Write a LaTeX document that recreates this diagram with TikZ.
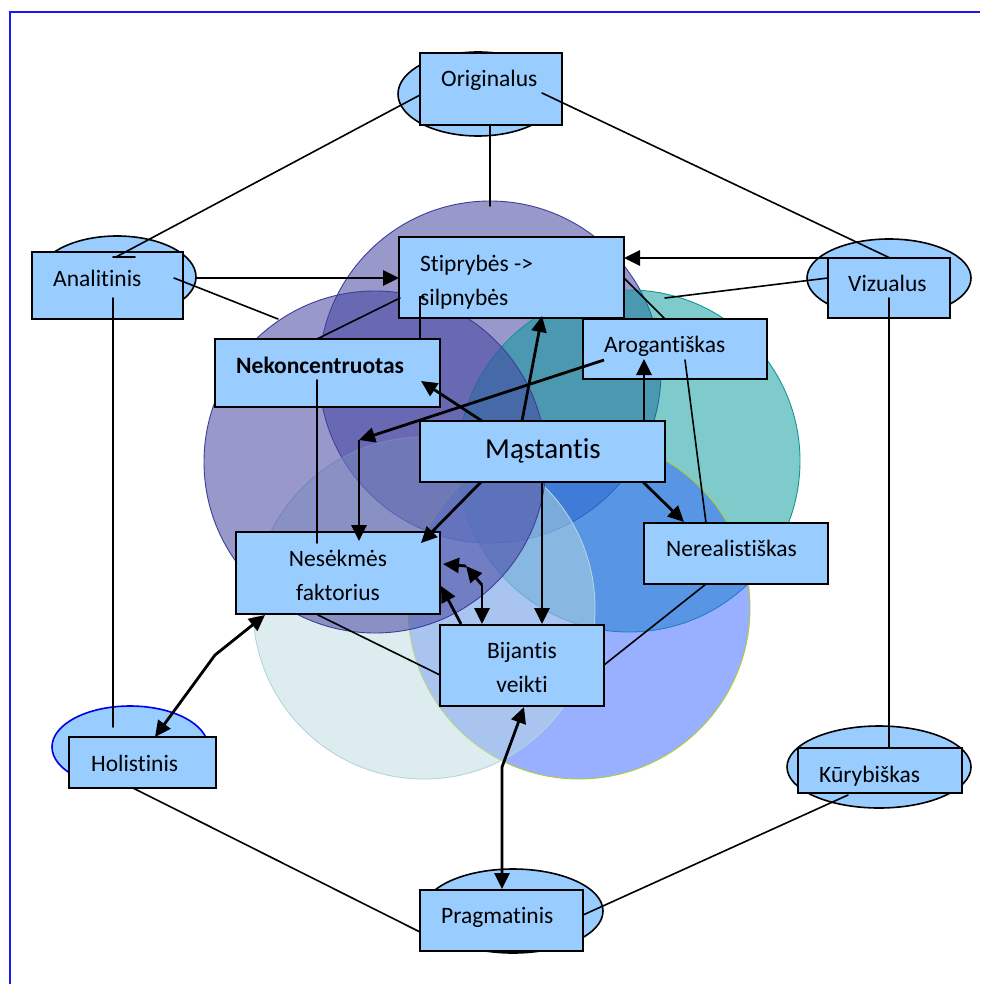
\documentclass[tikz,border=0pt]{standalone}
\usepackage{fontspec}
\setmainfont{Carlito}[Ligatures=NoCommon]
\usetikzlibrary{arrows.meta,calc}
\definecolor{boxfill}{RGB}{153,204,255}
\definecolor{purplec}{RGB}{66,66,160}
\definecolor{purpleb}{RGB}{62,62,150}
\definecolor{tealc}{RGB}{0,153,153}
\definecolor{tealb}{RGB}{20,150,150}
\definecolor{periw}{RGB}{53,97,255}
\definecolor{periwb}{RGB}{175,205,50}
\definecolor{palec}{RGB}{186,220,224}
\definecolor{paleb}{RGB}{175,215,222}
\definecolor{frameblue}{RGB}{25,25,240}
\definecolor{holblue}{RGB}{0,0,235}

\begin{document}
\begin{tikzpicture}[x=1pt,y=-1pt,
  box/.style={draw=black, line width=2pt, fill=boxfill, rectangle, inner sep=0pt},
  oval/.style={draw=black, line width=1.6pt, fill=boxfill},
  lbl/.style={inner sep=0pt, font=\fontsize{23.5}{28}\selectfont},
  link/.style={line width=1.6pt, line cap=round},
  arr/.style={line width=2.8pt, -{Triangle[length=16pt,width=15pt]}},
  biarr/.style={line width=2.8pt, line join=round,
    {Triangle[length=16pt,width=15pt]}-{Triangle[length=16pt,width=15pt]}},
  ring/.style={line width=0.9pt, fill opacity=0.5},
]
\useasboundingbox (0,0) rectangle (980,984);
\fill[white] (0,0) rectangle (980,984);

% page frame
\draw[frameblue, line width=2.2pt] (10,984) -- (10,12) -- (980,12);

% overlapping circles
\filldraw[ring, fill=purplec, fill opacity=0.54, draw=purpleb] (490,372) circle[radius=171pt];
\filldraw[ring, fill=tealc, draw=tealb] (629,461) circle[radius=171pt];
\filldraw[ring, fill=periw, draw=periwb] (579,608) circle[radius=171pt];
\filldraw[ring, fill=palec, fill opacity=0.49, draw=paleb] (424,608) circle[radius=171pt];
\filldraw[ring, fill=purplec, fill opacity=0.54, draw=purpleb] (375,462) circle[radius=171pt];

% ovals behind the outer boxes
\filldraw[oval] (478,94) ellipse[x radius=80pt, y radius=42pt];
\filldraw[oval] (117,277) ellipse[x radius=79pt, y radius=41pt];
\filldraw[oval] (889,278) ellipse[x radius=82pt, y radius=39pt];
\filldraw[oval, draw=holblue] (130,747) ellipse[x radius=78pt, y radius=41pt];
\filldraw[oval] (879,767) ellipse[x radius=92pt, y radius=41pt];
\filldraw[oval] (513,911) ellipse[x radius=90pt, y radius=42pt];

% boxes
\node[box, minimum width=142pt, minimum height=72pt] (ori) at (491,89) {};
\node[box, minimum width=151pt, minimum height=67pt] (ana) at (107.5,285.5) {};
\node[box, minimum width=122pt, minimum height=60pt] (viz) at (889,288) {};
\node[box, minimum width=225pt, minimum height=81pt] (sti) at (511.5,277.5) {};
\node[box, minimum width=184pt, minimum height=60pt] (aro) at (675,349) {};
\node[box, minimum width=225pt, minimum height=68pt] (nek) at (327.5,373) {};
\node[box, minimum width=245pt, minimum height=61pt] (mas) at (542.5,451.5) {};
\node[box, minimum width=204pt, minimum height=82pt] (nes) at (338,573) {};
\node[box, minimum width=164pt, minimum height=81pt] (bij) at (522,665.5) {};
\node[box, minimum width=184pt, minimum height=61pt] (ner) at (736,553.5) {};
\node[box, minimum width=147pt, minimum height=51pt] (hol) at (142.5,762.5) {};
\node[box, minimum width=164pt, minimum height=45pt] (kur) at (880,770.5) {};
\node[box, minimum width=163pt, minimum height=61pt] (pra) at (501.5,920.5) {};

% connector ports
\coordinate (ori-l) at (420,95);   \coordinate (ori-r) at (542,93);
\coordinate (ori-b) at (490,125);  \coordinate (top-c) at (490,206);
\coordinate (ana-t) at (116,257);  \coordinate (ana-r) at (174,278);
\coordinate (ana-b) at (113,298);  \coordinate (ana-e) at (196,278);
\coordinate (lft-c) at (278,319);
\coordinate (viz-t) at (890,258);  \coordinate (viz-l) at (828,278);
\coordinate (viz-a) at (828,258);  \coordinate (viz-b) at (889,298);
\coordinate (tea-c) at (665,298);
\coordinate (sti-e) at (624,258);  \coordinate (sti-c) at (624,278);
\coordinate (sti-w) at (399,278);  \coordinate (sti-s) at (400,298);
\coordinate (sti-i) at (420,297);  \coordinate (sti-u) at (542,316);
\coordinate (aro-t) at (665,319);  \coordinate (aro-s) at (644,359);
\coordinate (aro-i) at (685,360);  \coordinate (aro-l) at (604,360);
\coordinate (nek-t) at (317,339);  \coordinate (nek-i) at (317,380);
\coordinate (nek-n) at (420,339);  \coordinate (nek-a) at (421,381);
\coordinate (mas-a) at (482,421);  \coordinate (mas-b) at (522,421);
\coordinate (mas-c) at (644,421);  \coordinate (mas-d) at (481,482);
\coordinate (mas-e) at (542,482);  \coordinate (mas-f) at (643,482);
\coordinate (bend) at (359,440);
\coordinate (nes-a) at (359,541);  \coordinate (nes-b) at (421,543);
\coordinate (nes-i) at (317,543);  \coordinate (nes-s) at (318,615);
\coordinate (nes-r) at (441,586);  \coordinate (nes-q) at (443,564);
\coordinate (nes-c) at (265,615);
\coordinate (bij-t) at (542,624);  \coordinate (bij-a) at (461,624);
\coordinate (bij-b) at (482,624);  \coordinate (bij-l) at (440,675);
\coordinate (bij-r) at (604,665);  \coordinate (bij-s) at (524,707);
\coordinate (k1) at (482,585);     \coordinate (k2) at (466,566);
\coordinate (ner-n) at (684,522);  \coordinate (ner-t) at (706,523);
\coordinate (ner-s) at (706,584);
\coordinate (hol-t) at (113,727);  \coordinate (hol-a) at (155,737);
\coordinate (hol-b) at (133,788);  \coordinate (hk) at (215,655);
\coordinate (kur-t) at (889,748);  \coordinate (kur-b) at (848,795);
\coordinate (pra-l) at (420,932);  \coordinate (pra-r) at (583,915);
\coordinate (pra-t) at (502,889);  \coordinate (pk) at (502,767);

% plain links
\draw[link] (ori-l) -- (ana-t);
\draw[link] (113,257) -- (135,257);
\draw[link] (ori-r) -- (viz-t);
\draw[link] (ori-b) -- (top-c);
\draw[link] (ana-r) -- (lft-c);
\draw[link] (ana-b) -- (hol-t);
\draw[link] (viz-b) -- (kur-t);
\draw[link] (viz-l) -- (tea-c);
\draw[link] (sti-c) -- (aro-t);
\draw[link] (sti-s) -- (nek-t);
\draw[link] (424,297) -- (sti-i) -- (nek-n);
\draw[link] (nek-i) -- (nes-i);
\draw[link] (aro-i) -- (ner-t);
\draw[link] (nes-s) -- (bij-l);
\draw[link] (bij-r) -- (ner-s);
\draw[link] (hol-b) -- (pra-l);
\draw[link] (pra-r) -- (kur-b);

% arrows
\draw[arr] (ana-e) -- (sti-w);
\draw[arr] (viz-a) -- (sti-e);
\draw[arr] (mas-b) -- (sti-u);
\draw[arr] (mas-c) -- (aro-s);
\draw[arr] (mas-a) -- (nek-a);
\draw[arr] (aro-l) -- (bend);
\draw[arr] (bend) -- (nes-a);
\draw[arr] (mas-d) -- (nes-b);
\draw[arr] (mas-e) -- (bij-t);
\draw[arr] (mas-f) -- (ner-n);
\draw[arr] (bij-a) -- (nes-r);
\draw[arr] (k1) -- (k2);
\draw[arr] (k2) -- (nes-q);
\draw[arr] (k1) -- (bij-b);
\draw[biarr] (hol-a) -- (hk) -- (nes-c);
\draw[biarr] (bij-s) -- (pk) -- (pra-t);

% labels
\node[lbl, anchor=base west] (ori-txt) at (441,87) {Originalus};
\node[lbl, anchor=base west] (ana-txt) at (53,286) {Analitinis};
\node[lbl, anchor=base west] (viz-txt) at (848,291) {Vizualus};
\node[lbl, anchor=base west] (sti-txt1) at (420,271) {Stiprybės ->};
\node[lbl, anchor=base west] (sti-txt2) at (420,305) {silpnybės};
\node[lbl, anchor=base west] (aro-txt) at (604,352) {Arogantiškas};
\node[lbl, anchor=base west, font=\fontsize{23.5}{28}\selectfont\bfseries] (nek-txt) at (236,373) {Nekoncentruotas};
\node[lbl, anchor=base west, font=\fontsize{29}{34}\selectfont] (mas-txt) at (485,458) {Mąstantis};
\node[lbl, anchor=base] (nes-txt1) at (338,566) {Nesėkmės};
\node[lbl, anchor=base] (nes-txt2) at (338,600) {faktorius};
\node[lbl, anchor=base] (bij-txt1) at (522,658) {Bijantis};
\node[lbl, anchor=base] (bij-txt2) at (522,692) {veikti};
\node[lbl, anchor=base west] (ner-txt) at (666,556) {Nerealistiškas};
\node[lbl, anchor=base west] (hol-txt) at (91,771) {Holistinis};
\node[lbl, anchor=base west] (kur-txt) at (819,782) {Kūrybiškas};
\node[lbl, anchor=base west] (pra-txt) at (441,923) {Pragmatinis};
\end{tikzpicture}
\end{document}
